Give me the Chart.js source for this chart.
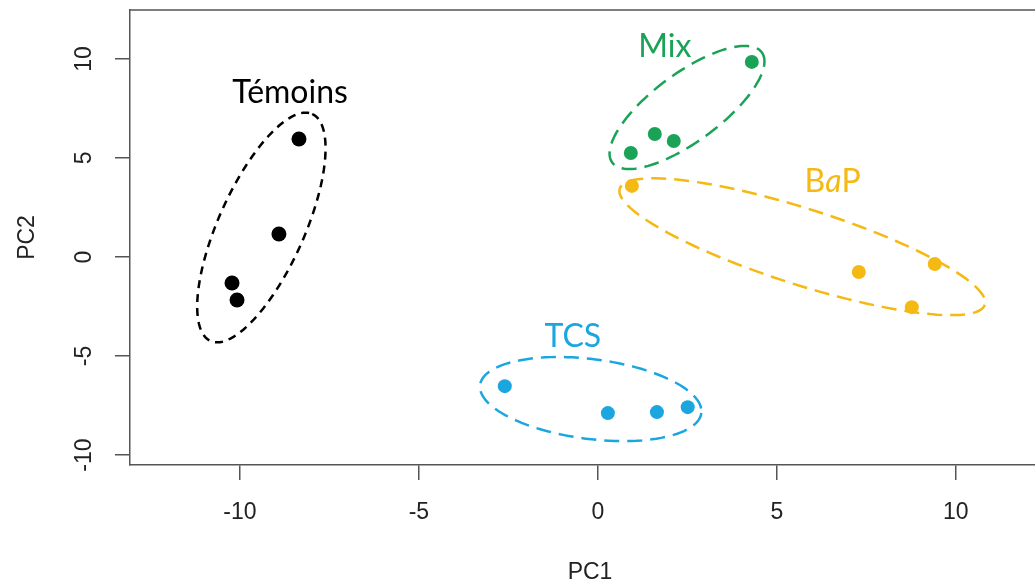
<!DOCTYPE html>
<html><head><meta charset="utf-8">
<script src="https://cdn.jsdelivr.net/npm/chart.js@4.4.1/dist/chart.umd.min.js"></script>
<style>
html,body{margin:0;padding:0;background:#fff;overflow:hidden;}
#wrap{width:1060px;height:582px;position:relative;}
</style></head><body>
<div id="wrap"><canvas id="cvs"></canvas></div>
<script>
/* points (PC1, PC2) */
const temoinsX = [-8.35, -8.91, -10.22, -10.08];
const temoinsY = [5.96, 1.16, -1.31, -2.17];
const mixX = [4.30, 1.59, 2.12, 0.92];
const mixY = [9.85, 6.21, 5.86, 5.25];
const bapX = [0.95, 7.29, 9.41, 8.77];
const bapY = [3.59, -0.76, -0.35, -2.53];
const tcsX = [-2.60, 0.28, 1.65, 2.51];
const tcsY = [-6.52, -7.88, -7.83, -7.58];

/* group ellipses: centre + semi-axis vectors, data units */
const ellCentre = [[-9.40, 1.49], [2.49, 7.55], [5.71, 0.52], [-0.20, -7.17]];
const ellMajor = [[1.42, 5.73], [2.09, 2.78], [5.10, -2.93], [3.09, -0.71]];
const ellMinor = [[1.095, -0.89], [0.56, -1.39], [-0.32, -1.83], [-0.14, -2.0]];

/* group labels */
const groupNames = ['Témoins', 'Mix', 'BaP', 'TCS'];
const labelPos = [[-8.60, 8.28], [1.87, 10.6], [6.56, 3.79], [-0.70, -4.04]];

const xTicks = [-10, -5, 0, 5, 10];
const yTicks = [-10, -5, 0, 5, 10];

/* style */
const COLS = ['#000000', '#1aa356', '#f5b914', '#1ba6e0'];
const DASH = [[8, 6], [15, 8], [15, 8], [15, 8]];
const AXIS = '#555555';
const TXT = '#222222';
const LABEL_FONT = '"Lato", "Open Sans", sans-serif';
const LABEL_SIZE = 32;
const AX_FONT = { family: '"Liberation Sans", Arial, sans-serif', size: 23 };

const pts = (xs, ys) => xs.map((x, i) => ({ x, y: ys[i] }));
const ds = (name, xs, ys, col, r) => ({
  label: name, data: pts(xs, ys),
  backgroundColor: col, borderColor: col, borderWidth: 0,
  pointRadius: r, pointHoverRadius: r
});

/* ellipses + labels + top border */
const overlay = {
  id: 'overlay',
  beforeDatasetsDraw(c) {
    const { ctx, scales: { x, y } } = c;
    ctx.save();
    ellCentre.forEach((cen, k) => {
      const M = ellMajor[k], N = ellMinor[k];
      ctx.beginPath();
      for (let i = 0; i <= 120; i++) {
        const t = i / 120 * Math.PI * 2;
        const px = x.getPixelForValue(cen[0] + M[0] * Math.cos(t) + N[0] * Math.sin(t));
        const py = y.getPixelForValue(cen[1] + M[1] * Math.cos(t) + N[1] * Math.sin(t));
        i ? ctx.lineTo(px, py) : ctx.moveTo(px, py);
      }
      ctx.closePath();
      ctx.setLineDash(DASH[k]);
      ctx.lineWidth = 2.5;
      ctx.strokeStyle = COLS[k];
      ctx.stroke();
    });
    ctx.restore();
  },
  afterDatasetsDraw(c) {
    const { ctx, chartArea: a, scales: { x, y } } = c;
    ctx.save();
    // top edge of the box
    ctx.strokeStyle = AXIS; ctx.lineWidth = 1.5;
    ctx.beginPath(); ctx.moveTo(a.left, a.top); ctx.lineTo(a.right, a.top); ctx.stroke();

    ctx.textBaseline = 'middle';
    groupNames.forEach((name, k) => {
      const px = x.getPixelForValue(labelPos[k][0]);
      const py = y.getPixelForValue(labelPos[k][1]);
      ctx.fillStyle = COLS[k];
      if (name === 'BaP') {
        // italic "a"
        const parts = [['B', ''], ['a', 'italic '], ['P', '']];
        const w = parts.map(p => { ctx.font = p[1] + LABEL_SIZE + 'px ' + LABEL_FONT; return ctx.measureText(p[0]).width; });
        let cx = px - w.reduce((s, v) => s + v, 0) / 2;
        ctx.textAlign = 'left';
        parts.forEach((p, i) => {
          ctx.font = p[1] + LABEL_SIZE + 'px ' + LABEL_FONT;
          ctx.fillText(p[0], cx, py);
          cx += w[i];
        });
      } else {
        ctx.font = LABEL_SIZE + 'px ' + LABEL_FONT;
        ctx.textAlign = 'center';
        ctx.fillText(name, px, py);
      }
    });
    ctx.restore();
  }
};

new Chart(document.getElementById('cvs'), {
  type: 'scatter',
  data: {
    datasets: [
      ds('Témoins', temoinsX, temoinsY, COLS[0], 7.5),
      ds('Mix', mixX, mixY, COLS[1], 7),
      ds('BaP', bapX, bapY, COLS[2], 7),
      ds('TCS', tcsX, tcsY, COLS[3], 7)
    ]
  },
  options: {
    responsive: true, maintainAspectRatio: false, animation: false,
    layout: { padding: { top: 10, right: 10, bottom: 0, left: 0 } },
    plugins: { legend: { display: false }, tooltip: { enabled: false } },
    scales: {
      x: {
        type: 'linear', min: -13.07, max: 12.63,
        afterBuildTicks: s => { s.ticks = xTicks.map(v => ({ value: v })); },
        afterFit: s => { s.height = 117; s.paddingLeft = 0; s.paddingRight = 0; },
        grid: { drawOnChartArea: false, drawTicks: true, tickLength: 15, color: AXIS, lineWidth: 1.5 },
        border: { display: true, color: AXIS, width: 1.5 },
        ticks: { padding: 19, color: TXT, font: AX_FONT },
        title: { display: true, text: 'PC1', color: TXT, padding: { top: 0, bottom: -4 }, font: AX_FONT }
      },
      y: {
        type: 'linear', min: -10.5, max: 12.47,
        afterBuildTicks: s => { s.ticks = yTicks.map(v => ({ value: v })); },
        afterFit: s => { s.width = 130; s.paddingTop = 0; s.paddingBottom = 0; },
        grid: { drawOnChartArea: false, drawTicks: true, tickLength: 15, color: AXIS, lineWidth: 1.5 },
        border: { display: true, color: AXIS, width: 1.5 },
        ticks: { padding: 14, minRotation: 90, maxRotation: 90, crossAlign: 'center', color: TXT, font: AX_FONT },
        title: { display: true, text: 'PC2', color: TXT, padding: { top: 14, bottom: 0 }, font: AX_FONT }
      }
    }
  },
  plugins: [overlay]
});
</script>
</body></html>
